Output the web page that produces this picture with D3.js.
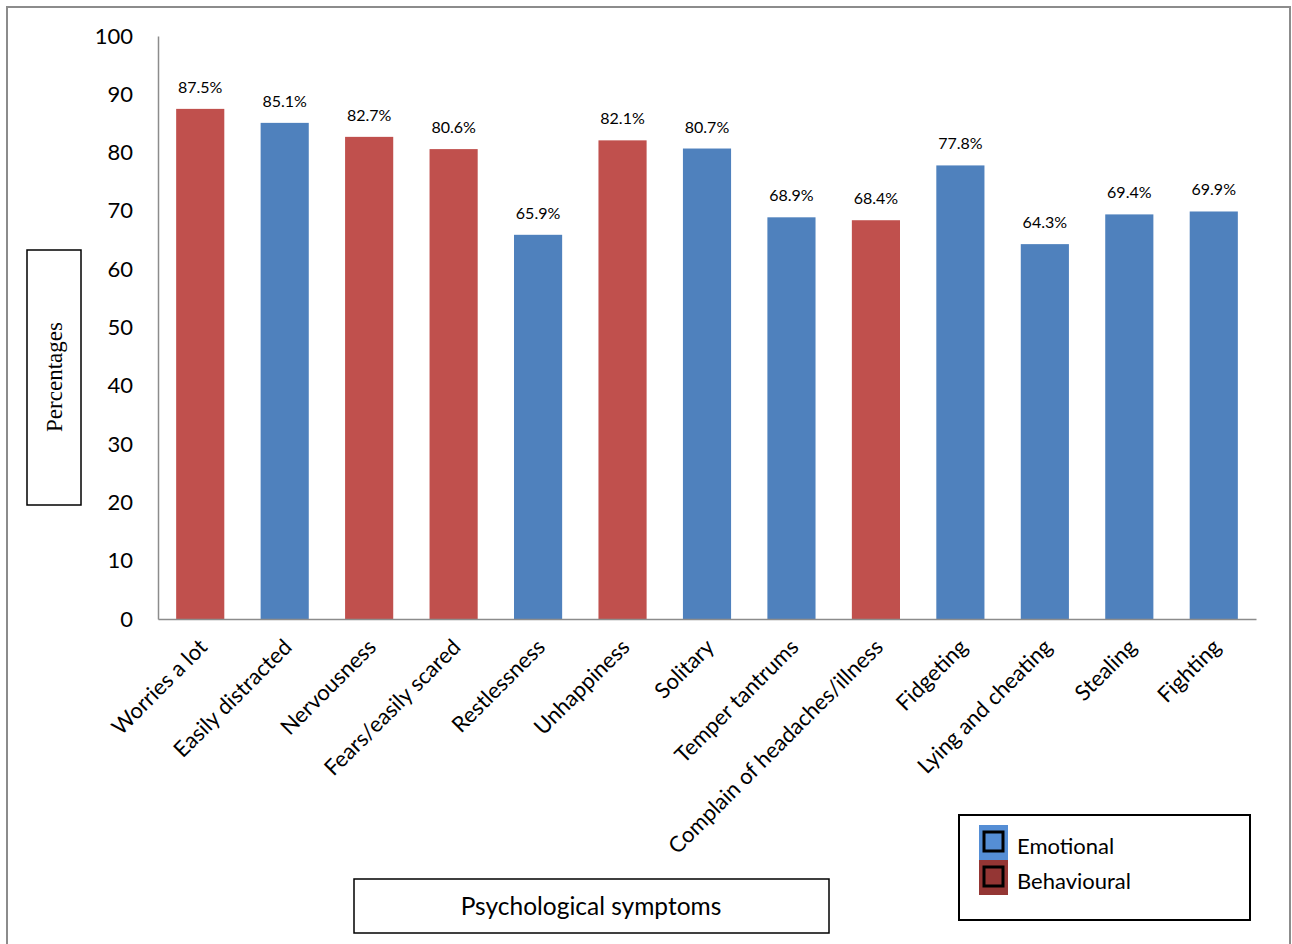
<!DOCTYPE html>
<html><head><meta charset="utf-8">
<script src="https://cdn.jsdelivr.net/npm/d3@7"></script>
<style>body{margin:0;background:#fff}svg{display:block}</style>
</head><body>
<script>
const categories = ["Worries a lot","Easily distracted","Nervousness","Fears/easily scared","Restlessness","Unhappiness","Solitary","Temper tantrums","Complain of headaches/illness","Fidgeting","Lying and cheating","Stealing","Fighting"];
const values = [87.5,85.1,82.7,80.6,65.9,82.1,80.7,68.9,68.4,77.8,64.3,69.4,69.9];
const types = ["Behavioural","Emotional","Behavioural","Behavioural","Emotional","Behavioural","Emotional","Emotional","Behavioural","Emotional","Emotional","Emotional","Emotional"];
const yTicks = [0,10,20,30,40,50,60,70,80,90,100];
const legendItems = ["Emotional","Behavioural"];

const W = 1292, H = 944;
const font = "Lato, 'Open Sans', sans-serif";
const svg = d3.select("body").append("svg").attr("width", W).attr("height", H);

// outer border
svg.append("path").attr("d", `M7,${H} V7 H1290 V${H}`).attr("fill","none").attr("stroke","#8c8c8c").attr("stroke-width",2);

const x = d3.scaleBand().domain(categories).range([158, 1256]).paddingInner(0.43).paddingOuter(0.215);
const y = d3.scaleLinear().domain([0,100]).range([619, 36]);
const color = d3.scaleOrdinal().domain(["Emotional","Behavioural"]).range(["#4F81BD","#C0504D"]);

// bars
svg.append("g").selectAll("rect").data(categories).join("rect")
  .attr("x", d => x(d)).attr("width", x.bandwidth())
  .attr("y", (d,i) => y(values[i])).attr("height", (d,i) => y(0) - y(values[i]))
  .attr("fill", (d,i) => color(types[i]));

// value labels
svg.append("g").selectAll("text").data(categories).join("text")
  .attr("x", d => x(d) + x.bandwidth()/2).attr("y", (d,i) => y(values[i]) - 16)
  .attr("text-anchor","middle").attr("font-family",font).attr("font-size",16).attr("fill","#000")
  .text((d,i) => values[i].toFixed(1) + "%");

// y axis
const yAxis = svg.append("g").attr("transform","translate(158,0)")
  .call(d3.axisLeft(y).tickValues(yTicks).tickSize(0).tickPadding(25));
yAxis.select(".domain").attr("stroke","#8c8c8c").attr("stroke-width",1.5);
yAxis.selectAll("text").attr("font-family",font).attr("font-size",22).attr("fill","#000");

// x axis
const xAxis = svg.append("g").attr("transform","translate(0,619)")
  .call(d3.axisBottom(x).tickSize(0).tickFormat(""));
xAxis.select(".domain").attr("stroke","#8c8c8c").attr("stroke-width",1.5);

// category labels
svg.append("g").selectAll("text").data(categories).join("text")
  .attr("transform", d => `translate(${x(d) + x.bandwidth()/2 + 3},${643}) rotate(-45)`)
  .attr("text-anchor","end").attr("dy","0.35em")
  .attr("font-family",font).attr("font-size",22).attr("fill","#000")
  .text(d => d);

// y title box
svg.append("rect").attr("x",27).attr("y",250).attr("width",54).attr("height",255)
  .attr("fill","#fff").attr("stroke","#000").attr("stroke-width",1.5);
svg.append("text").attr("transform","translate(62,377) rotate(-90)")
  .attr("text-anchor","middle").attr("font-family","'Liberation Serif', 'DejaVu Serif', serif")
  .attr("font-size",23).attr("fill","#000").text("Percentages");

// x title box
svg.append("rect").attr("x",354).attr("y",879).attr("width",475).attr("height",54)
  .attr("fill","#fff").attr("stroke","#000").attr("stroke-width",1.5);
svg.append("text").attr("x",591).attr("y",915).attr("text-anchor","middle")
  .attr("font-family",font).attr("font-size",24.5).attr("fill","#000").text("Psychological symptoms");

// legend
const lg = svg.append("g");
lg.append("rect").attr("x",959).attr("y",815).attr("width",291).attr("height",105)
  .attr("fill","#fff").attr("stroke","#000").attr("stroke-width",2);
const legendFill = {"Emotional":"#558ED5","Behavioural":"#943634"};
legendItems.forEach((k,i) => {
  const y0 = 825 + i*35;
  lg.append("rect").attr("x",979).attr("y",y0).attr("width",29).attr("height",35).attr("fill",legendFill[k]);
  lg.append("rect").attr("x",984).attr("y",y0+7).attr("width",19).attr("height",19)
    .attr("fill","none").attr("stroke","#000").attr("stroke-width",3);
  lg.append("text").attr("x",1017).attr("y",y0+29).attr("font-family",font).attr("font-size",22)
    .attr("fill","#000").text(k);
});
</script>
</body></html>
